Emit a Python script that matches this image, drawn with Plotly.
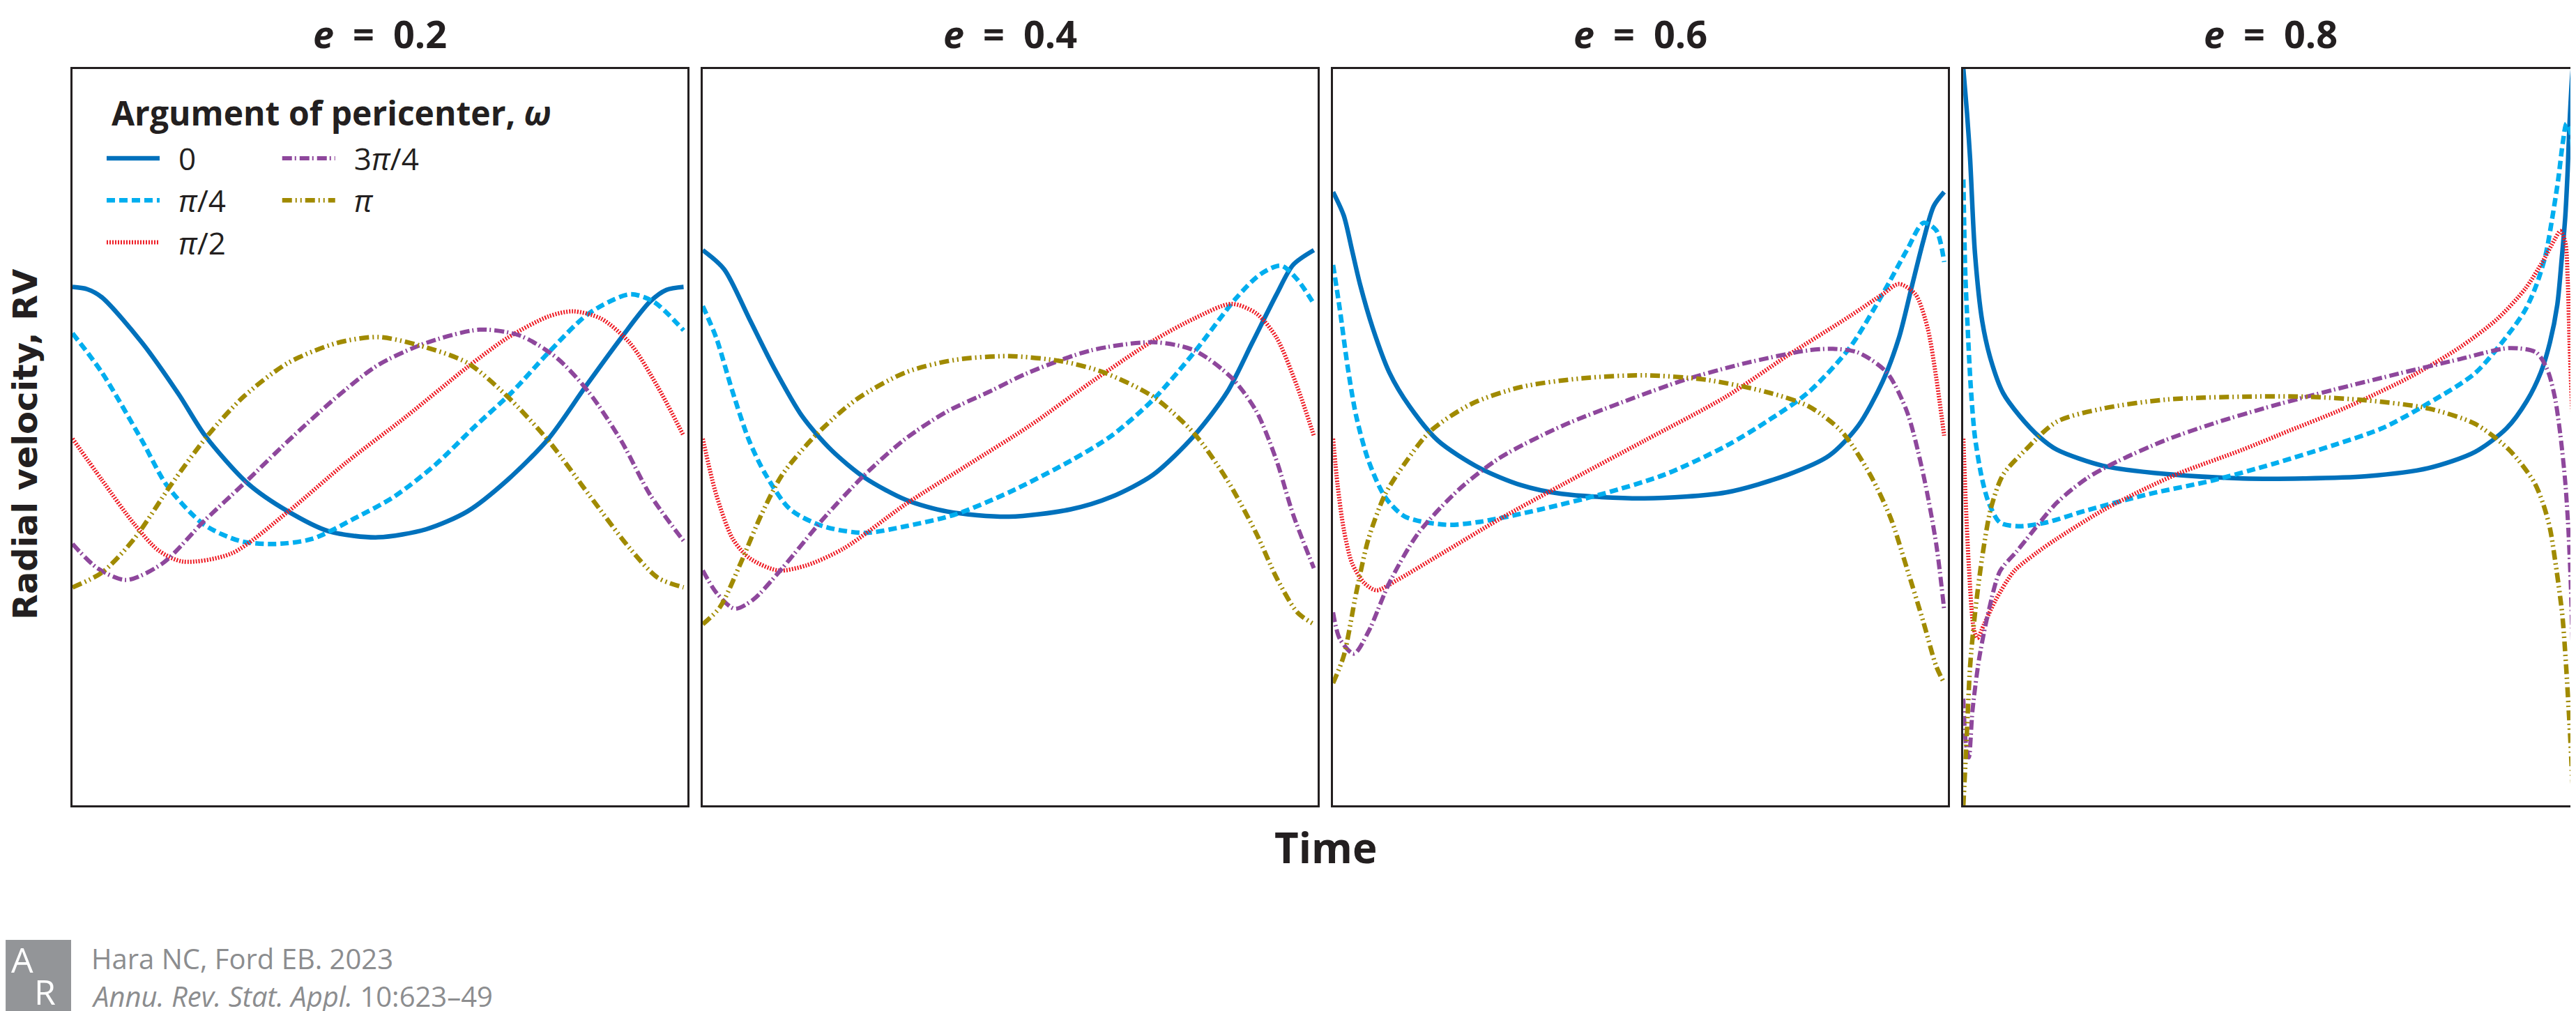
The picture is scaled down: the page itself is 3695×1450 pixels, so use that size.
import plotly.graph_objects as go
from plotly.subplots import make_subplots

# values: time is the orbital phase (0..1),
# RV is in the panel's own units (0 = bottom edge, 100 = top edge)
eccentricities = ['0.2', '0.4', '0.6', '0.8']
omega_labels = ['0', '<i>π</i>/4', '<i>π</i>/2', '3<i>π</i>/4', '<i>π</i>']

# e = 0.2
t_e02_w0 = [0, 0.024, 0.048, 0.114, 0.174, 0.217, 0.287, 0.353, 0.42, 0.5, 0.579, 0.646, 0.712, 0.779, 0.839, 0.898, 0.945, 0.972, 1.0]
rv_e02_w0 = [70.4, 70.1, 69.0, 62.8, 55.8, 50.2, 43.7, 39.9, 37.2, 36.4, 37.5, 39.9, 44.2, 49.8, 56.8, 63.5, 68.4, 70.0, 70.4]
t_e02_w1 = [0, 0.048, 0.114, 0.154, 0.214, 0.274, 0.334, 0.393, 0.46, 0.526, 0.593, 0.659, 0.719, 0.779, 0.845, 0.912, 0.951, 1.0]
rv_e02_w1 = [64.1, 58.8, 49.5, 43.5, 38.2, 35.9, 35.5, 36.2, 38.9, 41.9, 46.2, 51.5, 56.1, 61.5, 66.8, 69.4, 68.4, 64.5]
t_e02_w2 = [0, 0.048, 0.101, 0.141, 0.181, 0.26, 0.353, 0.447, 0.546, 0.646, 0.712, 0.779, 0.819, 0.865, 0.912, 0.958, 1.0]
rv_e02_w2 = [49.8, 44.2, 38.2, 34.6, 33.1, 34.2, 39.9, 46.5, 52.8, 59.5, 63.5, 66.4, 67.1, 66.1, 62.8, 56.8, 50.2]
t_e02_w3 = [0, 0.041, 0.088, 0.148, 0.214, 0.287, 0.353, 0.433, 0.5, 0.579, 0.666, 0.732, 0.792, 0.845, 0.898, 0.945, 1.0]
rv_e02_w3 = [35.5, 32.2, 30.6, 32.9, 38.5, 44.2, 49.5, 55.5, 59.8, 62.8, 64.6, 63.8, 60.8, 56.1, 49.5, 42.2, 35.9]
t_e02_w4 = [0, 0.048, 0.101, 0.161, 0.221, 0.28, 0.353, 0.433, 0.5, 0.566, 0.646, 0.712, 0.779, 0.845, 0.912, 0.958, 1.0]
rv_e02_w4 = [29.6, 31.6, 36.2, 43.5, 50.2, 55.5, 60.1, 62.8, 63.6, 62.5, 60.1, 55.5, 49.5, 42.2, 34.9, 30.9, 29.6]

# e = 0.4
t_e04_w0 = [0, 0.035, 0.076, 0.116, 0.163, 0.211, 0.265, 0.332, 0.4, 0.501, 0.602, 0.669, 0.737, 0.804, 0.858, 0.899, 0.939, 0.966, 1.0]
rv_e04_w0 = [75.4, 72.8, 66.1, 59.5, 52.8, 48.2, 44.5, 41.5, 39.9, 39.2, 40.2, 41.9, 44.9, 50.2, 56.1, 62.8, 69.4, 73.4, 75.4]
t_e04_w1 = [0, 0.022, 0.049, 0.076, 0.103, 0.143, 0.197, 0.265, 0.332, 0.413, 0.501, 0.602, 0.669, 0.737, 0.804, 0.872, 0.912, 0.946, 0.973, 1.0]
rv_e04_w1 = [67.8, 63.5, 56.1, 49.5, 44.9, 40.2, 37.9, 37.0, 37.9, 39.5, 42.5, 46.8, 50.2, 55.1, 61.5, 68.8, 72.1, 73.3, 71.4, 68.1]
t_e04_w2 = [0, 0.022, 0.049, 0.076, 0.123, 0.17, 0.231, 0.332, 0.433, 0.534, 0.636, 0.737, 0.804, 0.865, 0.906, 0.939, 0.973, 1.0]
rv_e04_w2 = [49.8, 42.2, 36.2, 33.6, 31.9, 32.6, 34.9, 40.9, 46.2, 51.5, 57.5, 63.1, 66.1, 68.1, 66.8, 63.5, 56.8, 50.2]
t_e04_w3 = [0, 0.022, 0.052, 0.082, 0.13, 0.197, 0.265, 0.332, 0.4, 0.467, 0.534, 0.636, 0.737, 0.804, 0.865, 0.906, 0.939, 0.966, 1.0]
rv_e04_w3 = [31.9, 28.9, 26.7, 27.9, 32.2, 38.9, 44.9, 49.8, 53.5, 56.1, 58.8, 61.8, 62.9, 61.8, 58.1, 53.5, 46.8, 39.5, 32.2]
t_e04_w4 = [0, 0.028, 0.062, 0.096, 0.13, 0.184, 0.251, 0.332, 0.413, 0.501, 0.588, 0.656, 0.737, 0.804, 0.858, 0.906, 0.939, 0.973, 1.0]
rv_e04_w4 = [24.6, 26.9, 32.9, 39.5, 44.9, 50.2, 55.1, 58.8, 60.5, 61.0, 60.3, 58.8, 55.5, 50.5, 44.2, 36.9, 30.9, 26.2, 24.6]

# e = 0.6
t_e06_w0 = [0, 0.0175, 0.031, 0.044, 0.065, 0.092, 0.125, 0.172, 0.24, 0.307, 0.374, 0.509, 0.643, 0.744, 0.812, 0.859, 0.899, 0.926, 0.946, 0.966, 0.983, 1.0]
rv_e06_w0 = [83.3, 80.1, 75.4, 70.8, 64.8, 58.8, 54.2, 49.5, 45.8, 43.5, 42.3, 41.7, 42.5, 44.9, 47.5, 51.5, 57.5, 63.5, 70.1, 76.7, 81.4, 83.3]
t_e06_w1 = [0, 0.011, 0.024, 0.038, 0.058, 0.085, 0.118, 0.186, 0.24, 0.34, 0.441, 0.542, 0.643, 0.711, 0.778, 0.845, 0.899, 0.939, 0.966, 0.987, 1.0]
rv_e06_w1 = [73.4, 67.4, 59.5, 52.8, 46.8, 41.9, 39.2, 38.1, 38.5, 40.2, 42.3, 44.9, 48.8, 52.2, 56.1, 62.1, 69.4, 75.4, 79.1, 78.1, 73.8]
t_e06_w2 = [0, 0.0074, 0.0175, 0.031, 0.051, 0.071, 0.105, 0.172, 0.273, 0.374, 0.509, 0.643, 0.744, 0.845, 0.899, 0.926, 0.953, 0.973, 0.987, 1.0]
rv_e06_w2 = [49.8, 43.5, 37.5, 32.9, 30.2, 29.2, 30.6, 33.9, 38.9, 43.5, 49.5, 55.5, 61.1, 66.4, 69.4, 70.8, 69.4, 64.8, 58.1, 50.2]
t_e06_w3 = [0, 0.011, 0.034, 0.058, 0.092, 0.139, 0.206, 0.273, 0.374, 0.475, 0.576, 0.677, 0.778, 0.818, 0.859, 0.906, 0.939, 0.966, 0.987, 1.0]
rv_e06_w3 = [26.2, 22.6, 20.6, 23.6, 30.2, 36.9, 42.9, 47.2, 51.5, 54.8, 57.8, 60.1, 61.8, 62.0, 61.5, 58.8, 53.5, 44.9, 35.5, 26.6]
t_e06_w4 = [0, 0.0175, 0.038, 0.058, 0.085, 0.118, 0.159, 0.226, 0.307, 0.408, 0.509, 0.61, 0.711, 0.778, 0.832, 0.879, 0.913, 0.939, 0.966, 0.987, 1.0]
rv_e06_w4 = [16.6, 20.3, 28.9, 36.2, 42.2, 46.5, 50.8, 54.5, 56.8, 58.0, 58.4, 57.8, 56.1, 54.2, 50.8, 44.9, 38.9, 32.2, 24.9, 18.9, 16.6]

# e = 0.8
t_e08_w0 = [0, 0.006, 0.011, 0.019, 0.031, 0.045, 0.065, 0.091, 0.125, 0.153, 0.229, 0.331, 0.457, 0.559, 0.66, 0.761, 0.8375, 0.889, 0.922, 0.945, 0.96, 0.972, 0.979, 0.985, 0.989, 0.992, 0.997, 1.0]
rv_e08_w0 = [100, 94, 87.9, 75, 65.7, 60.5, 56, 53, 50, 48.3, 46.1, 45.0, 44.4, 44.4, 44.7, 45.8, 48, 51.2, 54.9, 58.8, 62.9, 68, 74, 79.9, 86.3, 92.6, 99.8, 102]
t_e08_w1 = [0, 0.002, 0.0034, 0.007, 0.012, 0.019, 0.031, 0.042, 0.06, 0.09, 0.135, 0.2035, 0.305, 0.407, 0.508, 0.609, 0.685, 0.761, 0.8375, 0.893, 0.919, 0.9375, 0.953, 0.964, 0.9735, 0.981, 0.987, 0.994, 1.0]
rv_e08_w1 = [85, 76, 71.6, 65, 57, 50, 44.2, 41, 38.4, 37.9, 38.4, 40.1, 42.3, 44.1, 46.4, 49, 51.2, 54.6, 58.7, 64.1, 67.2, 70.6, 74.8, 79.9, 85, 90, 92.6, 91.3, 85.8]
t_e08_w2 = [0, 0.0034, 0.009, 0.017, 0.023, 0.034, 0.053, 0.083, 0.12, 0.153, 0.229, 0.305, 0.356, 0.457, 0.534, 0.609, 0.66, 0.736, 0.8125, 0.873, 0.919, 0.949, 0.968, 0.977, 0.985, 0.989, 0.992, 0.996, 1.0]
rv_e08_w2 = [49.8, 42.2, 32.5, 24, 22.7, 24.6, 27.9, 31.8, 34.3, 36.2, 40.1, 43.3, 45.2, 48.3, 50.9, 53.4, 55.3, 58.4, 62.2, 66, 70.1, 74, 76.9, 78, 76.5, 71.4, 63, 54.5, 50.3]
t_e08_w3 = [0, 0.004, 0.009, 0.015, 0.026, 0.042, 0.06, 0.0875, 0.102, 0.153, 0.2035, 0.2545, 0.331, 0.407, 0.508, 0.609, 0.711, 0.8125, 0.893, 0.9375, 0.956, 0.968, 0.977, 0.985, 0.99, 0.994, 0.997, 1.0]
rv_e08_w3 = [14.5, 8.5, 6.5, 12.9, 20, 26.6, 31.8, 34.5, 36, 41.1, 44.5, 46.8, 49.6, 51.8, 54.3, 56.5, 58.6, 60.6, 62.1, 61.5, 59.1, 55.4, 50.3, 43.9, 37.6, 30, 22, 14.9]
t_e08_w4 = [0, 0.0057, 0.011, 0.019, 0.031, 0.045, 0.065, 0.102, 0.153, 0.229, 0.331, 0.457, 0.559, 0.66, 0.761, 0.8375, 0.893, 0.934, 0.949, 0.96, 0.968, 0.98, 0.986, 0.992, 0.997, 1.0]
rv_e08_w4 = [0, 9.7, 18.8, 26, 33.8, 40.3, 44.9, 48.3, 52.1, 53.9, 55.1, 55.5, 55.5, 55, 53.9, 51.8, 48.3, 43.9, 40.9, 37.6, 33.5, 26, 19.4, 11, 3.1, 0]

panels = [
    [(t_e02_w0, rv_e02_w0), (t_e02_w1, rv_e02_w1), (t_e02_w2, rv_e02_w2), (t_e02_w3, rv_e02_w3), (t_e02_w4, rv_e02_w4)],
    [(t_e04_w0, rv_e04_w0), (t_e04_w1, rv_e04_w1), (t_e04_w2, rv_e04_w2), (t_e04_w3, rv_e04_w3), (t_e04_w4, rv_e04_w4)],
    [(t_e06_w0, rv_e06_w0), (t_e06_w1, rv_e06_w1), (t_e06_w2, rv_e06_w2), (t_e06_w3, rv_e06_w3), (t_e06_w4, rv_e06_w4)],
    [(t_e08_w0, rv_e08_w0), (t_e08_w1, rv_e08_w1), (t_e08_w2, rv_e08_w2), (t_e08_w3, rv_e08_w3), (t_e08_w4, rv_e08_w4)],
]

colors = ['#0071BC', '#00AEEF', '#EE1C25', '#8E479C', '#A08A00']
widths = [6.5, 6.5, 6, 6, 6.5]
dashes = ['solid', '12px,6px', '2px,2px', '14px,4px,2px,5px', '14px,5px,2px,5px,2px,5px']
legend_of = ['legend', 'legend', 'legend', 'legend2', 'legend2']

W, H = 3695, 1450
ML, MR, MT, MB = 96, 2, 91, 303
PW, PH = W - ML - MR, H - MT - MB
INK = '#231F20'


def px(x):
    return (x - ML) / PW


def py(y):
    return (H - MB - y) / PH


fig = make_subplots(rows=1, cols=4, horizontal_spacing=0.0062)

for p, curves in enumerate(panels):
    for k, (t, rv) in enumerate(curves):
        fig.add_trace(go.Scatter(
            x=t, y=rv, mode='lines', name='\u2002' + omega_labels[k],
            line=dict(color=colors[k], width=widths[k], dash=dashes[k], shape='spline', smoothing=0.8),
            legendgroup=f'w{k}', showlegend=(p == 0), legend=legend_of[k], hoverinfo='skip'),
            row=1, col=p + 1)

fig.update_xaxes(range=[0, 1.006], showline=True, mirror=True, linewidth=3, linecolor=INK,
                 showgrid=False, zeroline=False, showticklabels=False, ticks='')
fig.update_yaxes(range=[0, 100], showline=True, mirror=True, linewidth=3, linecolor=INK,
                 showgrid=False, zeroline=False, showticklabels=False, ticks='')

font = 'Open Sans, Noto Sans, sans-serif'
leg = dict(orientation='v', xanchor='left', yanchor='top', bgcolor='rgba(0,0,0,0)',
           font=dict(family=font, size=44, color=INK), itemwidth=76,
           tracegroupgap=0, traceorder='grouped')
fig.update_layout(
    width=W, height=H,
    margin=dict(l=ML, r=MR, t=MT, b=MB),
    paper_bgcolor='white', plot_bgcolor='white',
    legend=dict(leg, x=px(140), y=py(184)),
    legend2=dict(leg, x=px(392), y=py(184)),
)


def label(x, y, text, size, color=INK, family=font, **kw):
    fig.add_annotation(x=px(x), y=py(y), xref='paper', yref='paper', text=text, showarrow=False,
                       yanchor='middle', font=dict(family=family, size=size, color=color), **kw)


# panel titles
for p, e in enumerate(eccentricities):
    dom = fig.layout['xaxis' if p == 0 else f'xaxis{p + 1}'].domain
    fig.add_annotation(x=(dom[0] + dom[1]) / 2, y=py(40), xref='paper', yref='paper',
                       xanchor='center', yanchor='middle',
                       text=f'<b><i>e</i>\u2002=\u2002{e}</b>', showarrow=False,
                       font=dict(family=font, size=54, color=INK))

label(150, 153, '<b>Argument of pericenter, <i>ω</i></b>', 48, xanchor='left')
label((ML + W - MR) / 2, 1207, '<b>Time</b>', 60, xanchor='center')
label(28, 630, '<b>Radial velocity, RV</b>', 48, family='DejaVu Sans, Verdana, sans-serif',
      xanchor='center', textangle=-90)

# journal footer
fig.add_shape(type='rect', xref='paper', yref='paper', x0=px(0), x1=px(94), y0=py(1442), y1=py(1340),
              fillcolor='#939598', line_width=0)
label(24, 1368, 'A', 50, color='white', xanchor='center')
label(56, 1414, 'R', 50, color='white', xanchor='center')
label(121, 1366, 'Hara NC, Ford EB. 2023', 40, color='#8C8D8F', xanchor='left')
label(121, 1420, '<i>Annu. Rev. Stat. Appl.</i> 10:623–49', 40, color='#8C8D8F', xanchor='left')

fig.write_html('out.html', config={'displayModeBar': False})
